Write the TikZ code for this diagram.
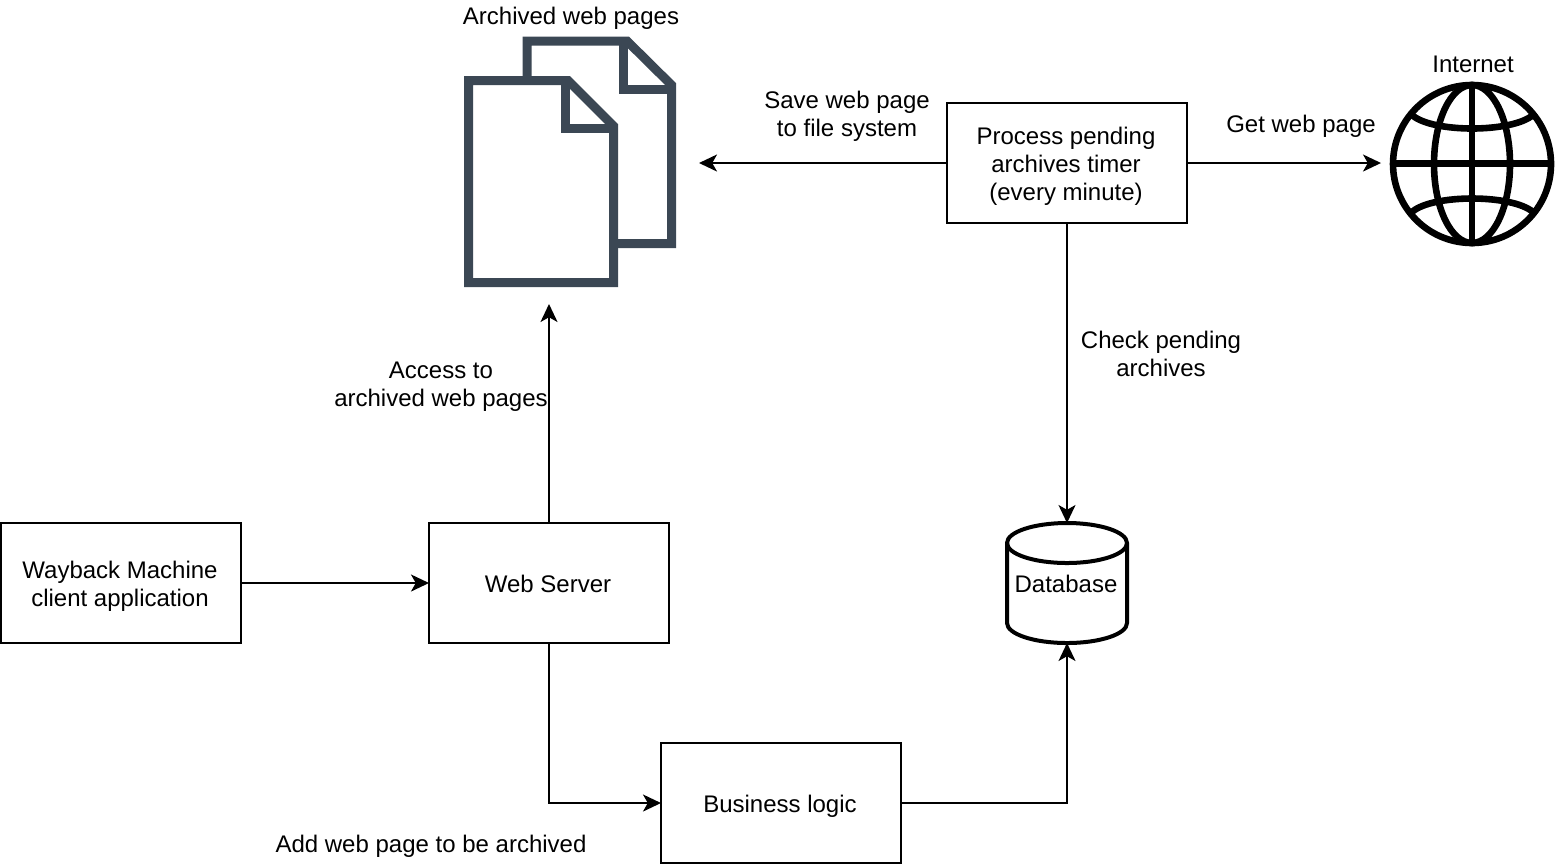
\documentclass[tikz,border=0pt]{standalone}
\usepackage{fontspec}
\setmainfont{Liberation Sans}
\usetikzlibrary{arrows.meta}
\definecolor{filecolor}{HTML}{3B4754}
\newcommand{\linestrut}{\leavevmode\rule[-2.5pt]{0pt}{14pt}}
\tikzset{
  every node/.style={font=\fontsize{12}{14}\selectfont, align=center, inner ysep=0pt,
    execute at begin node=\linestrut, execute at end node=\linestrut},
  boxed/.style={draw, line width=1pt, text width=120pt, align=flush center, minimum height=60pt, inner sep=0pt, outer sep=0pt,
    execute at begin node={\advance\rightskip by 1pt}},
  link/.style={line width=1pt, -{Stealth[length=9pt, width=8.5pt, inset=2.4pt]}},
  pagefile/.style={draw=filecolor, line width=4.5pt, fill=white, miter limit=10},
  globeline/.style={line width=3.3pt}
}
\begin{document}
\begin{tikzpicture}[x=0.5pt, y=-0.5pt]
  \useasboundingbox (0, 0) rectangle (1556, 864);
  % file icon
  \draw [pagefile] (527, 41) -- (627, 41) -- (671.5, 85) -- (671.5, 243.5) -- (527, 243.5) -- cycle;
  \draw [filecolor, line width=4.5pt] (623, 41) -- (623, 89) -- (671.5, 89);
  \draw [pagefile] (468.5, 80.5) -- (568, 80.5) -- (613.5, 126) -- (613.5, 282.5) -- (468.5, 282.5) -- cycle;
  \draw [filecolor, line width=4.5pt] (565, 80.5) -- (565, 128) -- (613.5, 128);
  % globe
  \draw [globeline] (1472, 164) circle [radius=79];
  \draw [globeline] (1472, 164) ellipse [x radius=38, y radius=79];
  \draw [globeline] (1472, 85) -- (1472, 243);
  \draw [globeline] (1393, 163.5) -- (1551, 163.5);
  \draw [globeline] (1412, 115) .. controls (1432, 133) and (1512, 133) .. (1533, 115);
  \draw [globeline] (1412, 212) .. controls (1432, 194) and (1512, 194) .. (1533, 212);
  % database
  \draw [line width=2pt] (1007, 543) arc [start angle=180, end angle=360, x radius=60, y radius=20]
    -- (1127, 623) arc [start angle=0, end angle=180, x radius=60, y radius=20] -- cycle;
  \draw [line width=2pt] (1007, 543) arc [start angle=180, end angle=0, x radius=60, y radius=20];
  \node [boxed, draw=none] (DB) at (1067, 583) {Database};
  % boxes
  \node [boxed] (WM) at (121, 583) {Wayback Machine\\client application};
  \node [boxed] (WS) at (549, 583) {Web Server};
  \node [boxed] (BL) at (781, 803) {Business logic};
  \node [boxed] (PT) at (1067, 163) {Process pending\\archives timer\\(every minute)};
  % free ends
  \coordinate (FS) at (549, 304);
  \coordinate (FE) at (699, 163);
  \coordinate (GW) at (1381, 163);
  % connectors
  \draw [link] (WM) -- (WS);
  \draw [link] (WS) -- (FS);
  \draw [link] (WS) |- (BL);
  \draw [link] (BL) -| (DB);
  \draw [link] (PT) -- (FE);
  \draw [link] (PT) -- (GW);
  \draw [link] (PT) -- (DB.north);
  % labels
  \node (LF) at (571, 15) {Archived web pages};
  \node (LI) at (1473, 63) {Internet};
  \node (LS) at (847, 116) {Save web page\\to file system};
  \node (LG) at (1301, 123) {Get web page};
  \node (LC) at (1161, 356) {Check pending\\archives};
  \node (LA) at (441, 387) {Access to\\archived web pages};
  \node (LW) at (431, 843) {Add web page to be archived};
\end{tikzpicture}
\end{document}
